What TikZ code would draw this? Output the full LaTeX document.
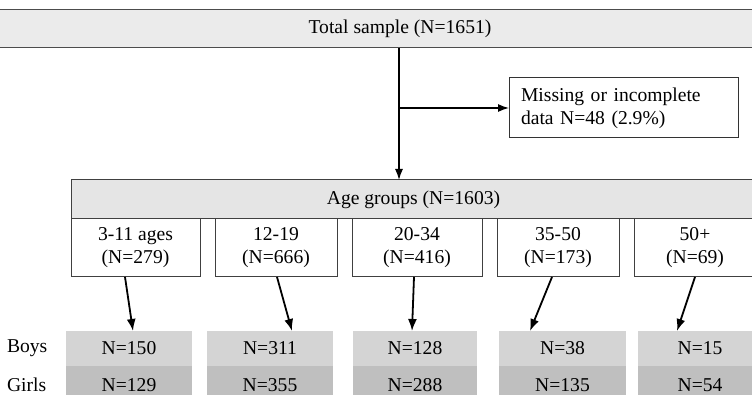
\documentclass[tikz,border=0pt]{standalone}
\usepackage{fontspec}
\setmainfont{Liberation Serif}
\usetikzlibrary{arrows.meta}

\begin{document}
\begin{tikzpicture}[
  x=1pt, y=-1pt,
  every node/.style={font=\fontsize{19.6}{23}\selectfont, align=center,
                     inner sep=0pt, outer sep=0pt},
  topbox/.style={draw=black!70, fill=black!8, line width=1pt, minimum width=820pt, minimum height=38pt},
  agebox/.style={draw=black!75, fill=black!10, line width=1pt, minimum width=685pt, minimum height=39pt},
  grpbox/.style={draw=black!75, fill=white, line width=1pt, minimum height=58pt},
  missbox/.style={draw=black!80, line width=1pt, minimum width=229pt, minimum height=60pt,
                  align=left, text width=205pt},
  boys/.style={fill=black!17, minimum height=35pt},
  girls/.style={fill=black!25, minimum height=38pt},
  lbl/.style={anchor=west}
]
  \useasboundingbox (0,0) rectangle (752,395);
  \clip (0,0) rectangle (752,395);

  \node[topbox] (total) at (400,29) {Total sample (N=1651)};
  \node[missbox] (missing) at (623.5,108) {Missing or incomplete\\data N=48 (2.9\%)};
  \node[agebox] (agegroups) at (413.5,199.5) {Age groups (N=1603)};

  \node[grpbox, minimum width=129pt] (g1) at (135.5,248) {3-11 ages\\(N=279)};
  \node[grpbox, minimum width=122pt] (g2) at (276,248) {12-19\\(N=666)};
  \node[grpbox, minimum width=130pt] (g3) at (417,248) {20-34\\(N=416)};
  \node[grpbox, minimum width=122pt] (g4) at (558,248) {35-50\\(N=173)};
  \node[grpbox, minimum width=122pt] (g5) at (695,248) {50+\\(N=69)};

  \node[lbl] (boyslbl) at (7,348.5) {Boys};
  \node[lbl] (girlslbl) at (7,385) {Girls};

  \node[boys, minimum width=126pt] (b1) at (129,348.5) {N=150};
  \node[boys, minimum width=126pt] (b2) at (270,348.5) {N=311};
  \node[boys, minimum width=124pt] (b3) at (415,348.5) {N=128};
  \node[boys, minimum width=127pt] (b4) at (562.5,348.5) {N=38};
  \node[boys, minimum width=124pt] (b5) at (700,348.5) {N=15};
  \node[girls, minimum width=126pt] (f1) at (129,385) {N=129};
  \node[girls, minimum width=126pt] (f2) at (270,385) {N=355};
  \node[girls, minimum width=124pt] (f3) at (415,385) {N=288};
  \node[girls, minimum width=127pt] (f4) at (562.5,385) {N=135};
  \node[girls, minimum width=124pt] (f5) at (700,385) {N=54};

  \coordinate (split) at (399,108);
  \draw[line width=1.3pt] ([xshift=-1pt]total.south) -- (split);
  \draw[->,>={Latex[length=11pt,width=8pt]},line width=1.3pt] (split) -- ([xshift=-14.5pt]agegroups.north);
  \draw[->,>={Latex[length=11pt,width=8pt]},line width=1.3pt] (split) -- (missing.west);

  \draw[->,>={Latex[length=12pt,width=9pt]},line width=1.8pt] ([xshift=-10.5pt]g1.south) -- ([xshift=4pt]b1.north);
  \draw[->,>={Latex[length=12pt,width=9pt]},line width=1.8pt] ([xshift=1pt]g2.south) -- ([xshift=22pt]b2.north);
  \draw[->,>={Latex[length=12pt,width=9pt]},line width=1.8pt] ([xshift=-3pt]g3.south) -- ([xshift=-3pt]b3.north);
  \draw[->,>={Latex[length=12pt,width=9pt]},line width=1.8pt] ([xshift=-6pt]g4.south) -- ([xshift=-32.5pt]b4.north);
  \draw[->,>={Latex[length=12pt,width=9pt]},line width=1.8pt] (g5.south) -- ([xshift=-23pt]b5.north);
\end{tikzpicture}
\end{document}
